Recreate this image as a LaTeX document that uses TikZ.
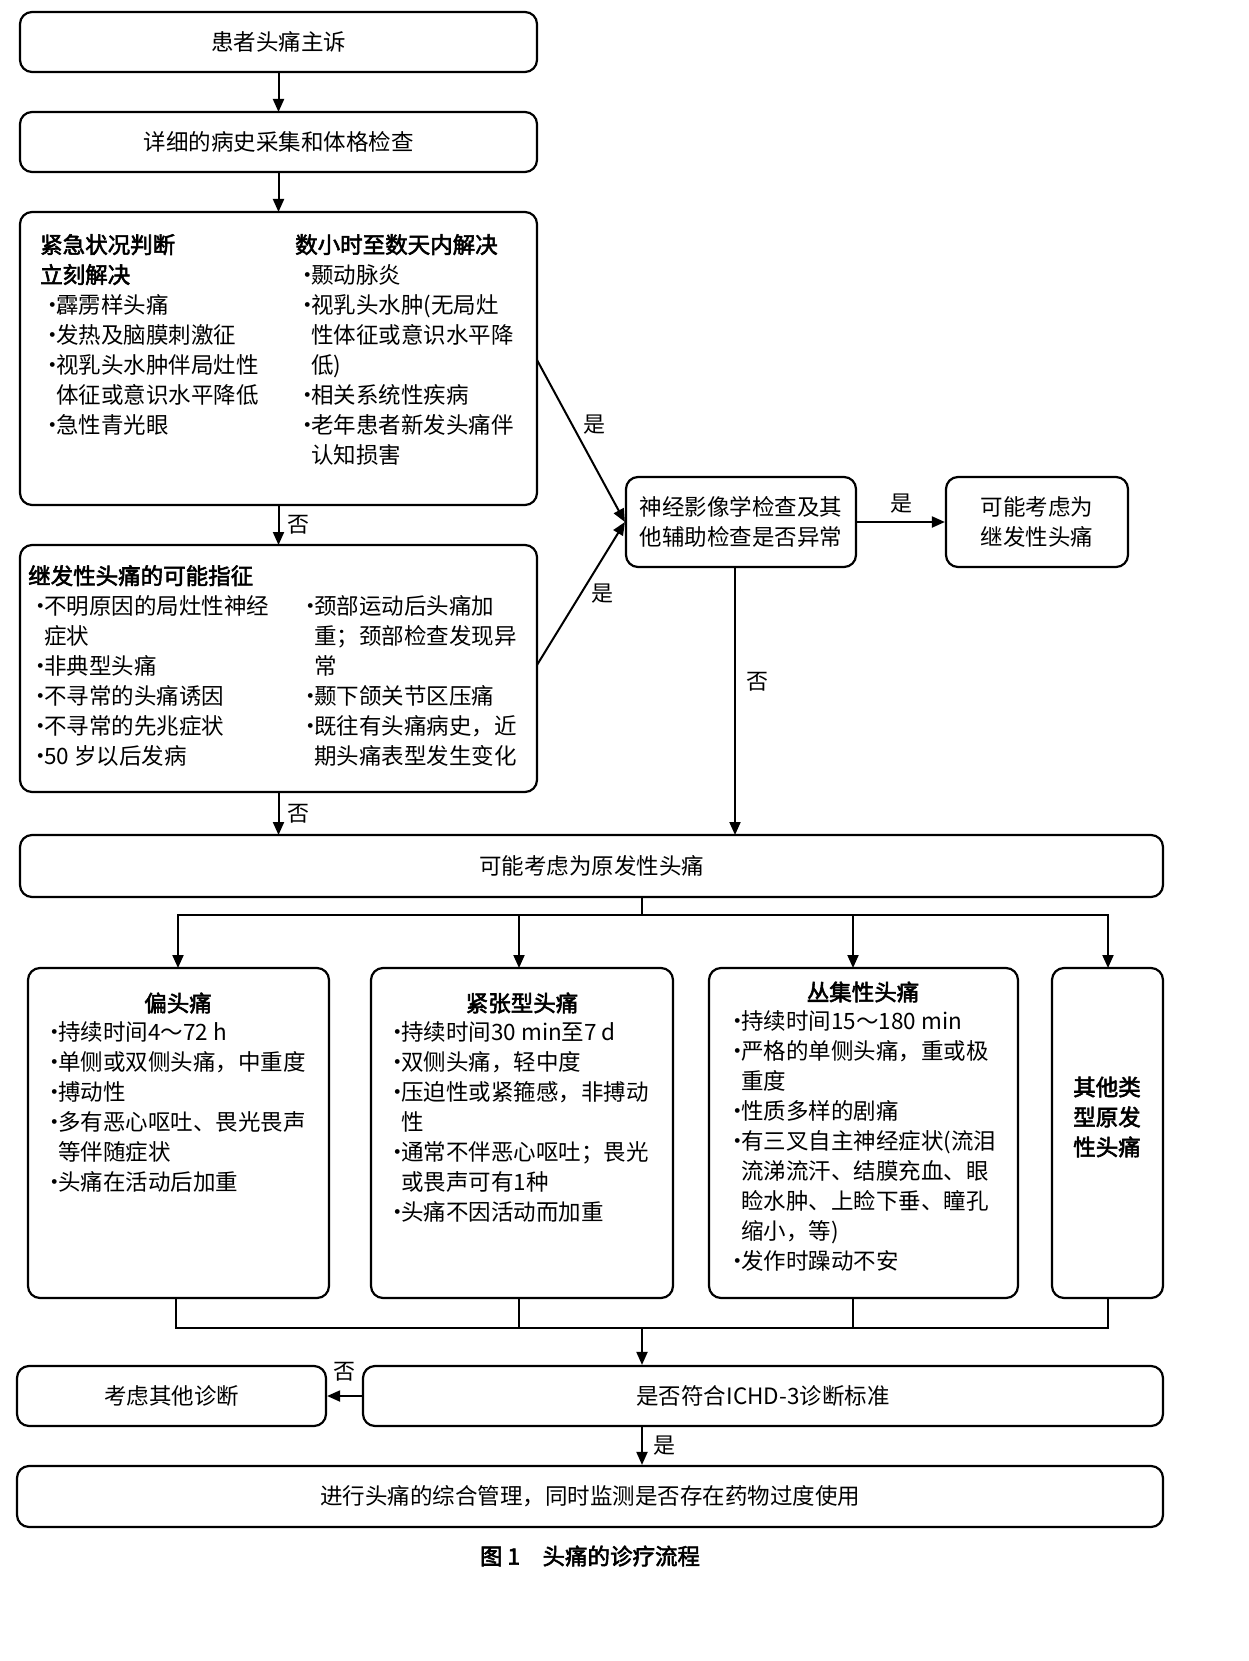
\documentclass[tikz,border=0pt]{standalone}
\usepackage{fontspec}
\setmainfont{Noto Sans CJK SC}[AutoFakeBold=2.5]
\usetikzlibrary{arrows.meta}
\newcommand{\bi}{\makebox[16pt][l]{\hspace{1pt}•}}
\newcommand{\ci}{\hspace*{16pt}}
\begin{document}
\begin{tikzpicture}[x=1pt,y=-1pt,
  box/.style={draw,line width=2.2pt,rounded corners=12pt},
  txt/.style={anchor=north west,align=left,inner sep=0pt,font=\fontsize{22.5}{30}\selectfont},
  ctxt/.style={align=center,inner sep=0pt,font=\fontsize{22.5}{30}\selectfont},
  arr/.style={line width=2pt,-{Triangle[length=13pt,width=11pt]}},
  ln/.style={line width=2pt},
  lab/.style={inner sep=0pt,font=\fontsize{22}{26}\selectfont}]
\useasboundingbox (0,0) rectangle (1248,1661);
% boxes
\draw[box] (20,12) rectangle (537,72) node[ctxt,midway] (t1) {患者头痛主诉};
\coordinate (b1) at (278.5,72);
\draw[box] (20,112) rectangle (537,172) node[ctxt,midway] {详细的病史采集和体格检查};
\coordinate (b2t) at (278.5,112); \coordinate (b2b) at (278.5,172);
\draw[box] (20,212) rectangle (537,505);
\coordinate (b3t) at (278.5,212); \coordinate (b3b) at (278.5,505); \coordinate (b3r) at (537,360);
\node[txt] (l3) at (40,234) {\textbf{紧急状况判断}\\\textbf{立刻解决}\\\bi 霹雳样头痛\\\bi 发热及脑膜刺激征\\\bi 视乳头水肿伴局灶性\\\ci 体征或意识水平降低\\\bi 急性青光眼};
\node[txt] (r3) at (295,234) {\textbf{数小时至数天内解决}\\\bi 颞动脉炎\\\bi 视乳头水肿(无局灶\\\ci 性体征或意识水平降\\\ci 低)\\\bi 相关系统性疾病\\\bi 老年患者新发头痛伴\\\ci 认知损害};
\draw[box] (20,545) rectangle (537,792);
\coordinate (b4t) at (278.5,545); \coordinate (b4b) at (278.5,792); \coordinate (b4r) at (537,665);
\node[txt] (l4) at (28,565) {\textbf{继发性头痛的可能指征}\\\bi 不明原因的局灶性神经\\\ci 症状\\\bi 非典型头痛\\\bi 不寻常的头痛诱因\\\bi 不寻常的先兆症状\\\bi 50 岁以后发病};
\node[txt] (r4) at (298,595) {\bi 颈部运动后头痛加\\\ci 重；颈部检查发现异\\\ci 常\\\bi 颞下颌关节区压痛\\\bi 既往有头痛病史，近\\\ci 期头痛表型发生变化};
\node[box,minimum width=230pt,minimum height=90pt,ctxt,align=left] (n5) at (741,522) {神经影像学检查及其\\他辅助检查是否异常};
\node[box,minimum width=182pt,minimum height=90pt,ctxt] (n6) at (1037,522) {可能考虑为\\继发性头痛};
\draw[box] (20,835) rectangle (1163,897) node[ctxt,midway] {可能考虑为原发性头痛};
\coordinate (b7t) at (278.5,835); \coordinate (b7t2) at (735,835); \coordinate (b7b) at (642,897);
% four boxes
\draw[box] (28,968) rectangle (329,1298);
\node[ctxt] at (178,1003) {\textbf{偏头痛}};
\node[txt] at (42,1021) {\bi 持续时间4～72 h\\\bi 单侧或双侧头痛，中重度\\\bi 搏动性\\\bi 多有恶心呕吐、畏光畏声\\\ci 等伴随症状\\\bi 头痛在活动后加重};
\draw[box] (371,968) rectangle (673,1298);
\node[ctxt] at (522,1003) {\textbf{紧张型头痛}};
\node[txt] at (385,1021) {\bi 持续时间30 min至7 d\\\bi 双侧头痛，轻中度\\\bi 压迫性或紧箍感，非搏动\\\ci 性\\\bi 通常不伴恶心呕吐；畏光\\\ci 或畏声可有1种\\\bi 头痛不因活动而加重};
\draw[box] (709,968) rectangle (1018,1298);
\node[ctxt] at (863,992) {\textbf{丛集性头痛}};
\node[txt] at (725,1010) {\bi 持续时间15～180 min\\\bi 严格的单侧头痛，重或极\\\ci 重度\\\bi 性质多样的剧痛\\\bi 有三叉自主神经症状(流泪\\\ci 流涕流汗、结膜充血、眼\\\ci 睑水肿、上睑下垂、瞳孔\\\ci 缩小，等)\\\bi 发作时躁动不安};
\draw[box] (1052,968) rectangle (1163,1298);
\node[ctxt] at (1107,1117) {\textbf{其他类}\\\textbf{型原发}\\\textbf{性头痛}};
\node[box,minimum width=309pt,minimum height=60pt,ctxt] (n12) at (171.5,1396) {考虑其他诊断};
\node[box,minimum width=800pt,minimum height=60pt,ctxt] (n13) at (763,1396) {是否符合ICHD-3诊断标准};
\node[box,minimum width=1146pt,minimum height=61pt,ctxt] (n14) at (590,1496.5) {进行头痛的综合管理，同时监测是否存在药物过度使用};
\node[ctxt] (cap) at (590,1556) {\textbf{图 1\quad 头痛的诊疗流程}};
% arrows
\draw[arr] (b1) -- (b2t);
\draw[arr] (b2b) -- (b3t);
\draw[arr] (b3b) -- (b4t) node[lab,midway,right=8pt] {否};
\draw[arr] (b4b) -- (b7t) node[lab,midway,right=8pt] {否};
\draw[arr] (b3r) -- (n5.west) node[lab,pos=0.4,right=10pt] {是};
\draw[arr] (b4r) -- (n5.west) node[lab,pos=0.5,right=10pt] {是};
\draw[arr] (n5) -- (n6) node[lab,midway,above=8pt] {是};
\coordinate (n5b) at (735,567);
\draw[arr] (n5b) -- (b7t2) node[lab,pos=0.43,right=10pt] {否};
\coordinate (sp) at (642,915);
\draw[ln] (b7b) -- (sp);
\draw[ln] (178,915) -- (1108,915);
\foreach \x in {178,519,853,1108} \draw[arr] (\x,914) -- (\x,968);
\foreach \x in {176,519,853,1108} \draw[ln] (\x,1298) -- (\x,1329);
\draw[ln] (176,1328) -- (1108,1328);
\draw[arr] (642,1327) -- (n13.north -| 642,0);
\draw[arr] (n13) -- (n12);
\node[lab] (no2) at (344,1372) {否};
\draw[arr] (n13.south -| 642,0) -- (n14.north -| 642,0) node[lab,midway,right=10pt] {是};
\end{tikzpicture}
\end{document}
